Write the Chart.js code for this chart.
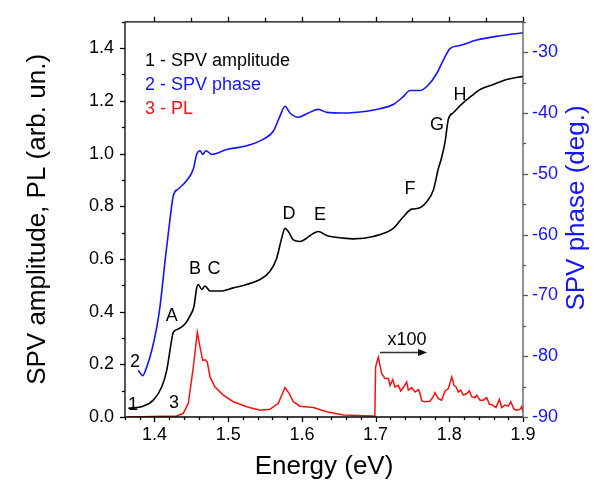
<!DOCTYPE html>
<html>
<head>
<meta charset="utf-8">
<script src="https://cdn.jsdelivr.net/npm/chart.js@4/dist/chart.umd.min.js"></script>
<style>
  body { margin: 0; background: #fff; }
  #wrap { width: 614px; height: 485px; }
</style>
</head>
<body>
<div id="wrap"><canvas id="spvChart" width="614" height="485"></canvas></div>
<script>
// curve 1 - SPV amplitude (left axis)
const ampEnergy = [1.3645, 1.3848, 1.3984, 1.4098, 1.4166, 1.4224, 1.4255, 1.4323, 1.4414, 1.4482, 1.4536,
  1.4573, 1.4595, 1.4641, 1.4686, 1.4753, 1.4889, 1.5069, 1.5251, 1.5432, 1.5567, 1.5658, 1.5726, 1.5771,
  1.5816, 1.5884, 1.5974, 1.6065, 1.6155, 1.6223, 1.6337, 1.6562, 1.6698, 1.6969, 1.7240, 1.7376, 1.7490,
  1.7580, 1.7694, 1.7783, 1.7851, 1.7897, 1.7942, 1.7987, 1.8055, 1.8190, 1.8326, 1.8417, 1.8597, 1.8779, 1.9000];
const ampValues = [0.033, 0.041, 0.064, 0.114, 0.177, 0.277, 0.321, 0.334, 0.353, 0.384, 0.420,
  0.490, 0.503, 0.484, 0.497, 0.478, 0.478, 0.490, 0.503, 0.522, 0.553, 0.603, 0.679, 0.716,
  0.704, 0.672, 0.666, 0.679, 0.697, 0.704, 0.689, 0.679, 0.676, 0.685, 0.716, 0.760, 0.789,
  0.792, 0.817, 0.861, 0.942, 0.986, 1.043, 1.130, 1.155, 1.193, 1.224, 1.243, 1.262, 1.281, 1.293];

// curve 2 - SPV phase (right axis, deg.)
const phaseEnergy = [1.3780, 1.3840, 1.3894, 1.3962, 1.4030, 1.4075, 1.4143, 1.4211, 1.4255, 1.4323, 1.4437,
  1.4527, 1.4573, 1.4618, 1.4654, 1.4699, 1.4776, 1.4980, 1.5251, 1.5477, 1.5612, 1.5703, 1.5771, 1.5839,
  1.5951, 1.6087, 1.6223, 1.6337, 1.6562, 1.6880, 1.7060, 1.7240, 1.7376, 1.7467, 1.7603, 1.7715, 1.7829,
  1.7919, 1.8010, 1.8145, 1.8372, 1.8688, 1.9000];
const phaseValues = [-82.3, -83.2, -81.8, -79.1, -75.3, -71.8, -64.4, -57.4, -53.6, -52.5, -51.1,
  -49.2, -46.8, -46.2, -46.8, -46.2, -46.8, -46.0, -45.4, -44.3, -43.0, -40.5, -38.9, -40.0,
  -40.7, -40.0, -39.4, -39.9, -40.0, -39.7, -39.3, -38.6, -37.3, -36.3, -36.3, -35.4, -33.5,
  -31.3, -29.4, -28.9, -28.0, -27.3, -26.8];

// curve 3 - PL (left axis), above 1.7 eV shown x100
const plEnergy = [1.3645, 1.4301, 1.4391, 1.4459, 1.4527, 1.4581, 1.4618, 1.4654, 1.4686, 1.4717, 1.4753,
  1.4821, 1.4934, 1.5069, 1.5251, 1.5432, 1.5567, 1.5680, 1.5771, 1.5829, 1.5884, 1.5974, 1.6155, 1.6337,
  1.6562, 1.6969, 1.6990, 1.7000, 1.7037, 1.7083, 1.7128, 1.7173, 1.7196, 1.7232, 1.7263, 1.7308, 1.7341,
  1.7376, 1.7422, 1.7444, 1.7490, 1.7535, 1.7580, 1.7603, 1.7626, 1.7671, 1.7738, 1.7783, 1.7806, 1.7851,
  1.7897, 1.7942, 1.7987, 1.8033, 1.8064, 1.8091, 1.8122, 1.8155, 1.8190, 1.8236, 1.8272, 1.8304, 1.8349,
  1.8372, 1.8417, 1.8462, 1.8508, 1.8543, 1.8589, 1.8634, 1.8679, 1.8711, 1.8756, 1.8801, 1.8834, 1.8878,
  1.8915, 1.8960, 1.8982, 1.9000];
const plValues = [0.000, 0.004, 0.014, 0.052, 0.189, 0.321, 0.265, 0.215, 0.217, 0.208, 0.152,
  0.114, 0.083, 0.058, 0.039, 0.026, 0.029, 0.052, 0.112, 0.089, 0.058, 0.041, 0.036, 0.020,
  0.008, 0.004, 0.003, 0.190, 0.227, 0.164, 0.146, 0.146, 0.120, 0.142, 0.114, 0.120, 0.099,
  0.112, 0.133, 0.102, 0.112, 0.095, 0.104, 0.089, 0.061, 0.058, 0.060, 0.077, 0.092, 0.070,
  0.064, 0.099, 0.108, 0.152, 0.120, 0.114, 0.095, 0.102, 0.083, 0.089, 0.099, 0.077, 0.073,
  0.083, 0.064, 0.064, 0.073, 0.049, 0.045, 0.036, 0.067, 0.036, 0.045, 0.041, 0.058, 0.030,
  0.026, 0.029, 0.039, 0.020];

// peak labels on curve 1
const peakNames = ['A', 'B', 'C', 'D', 'E', 'F', 'G', 'H'];
const peakEnergy = [1.4234, 1.4550, 1.4808, 1.5825, 1.6246, 1.7467, 1.7833, 1.8145];
const peakLevel = [0.384, 0.561, 0.561, 0.772, 0.768, 0.866, 1.107, 1.223];

const FONT = '"Liberation Sans", Arial, sans-serif';
const BLUE = '#1414ff';
const RED = '#ff1010';

function toPoints(xs, ys) {
  return xs.map((x, i) => ({ x: x, y: ys[i] }));
}

// frame, outer ticks, titles and annotations
const decorations = {
  id: 'decorations',
  afterDraw(chart) {
    const { ctx, chartArea: a } = chart;
    const sx = chart.scales.x, sy = chart.scales.y, sp = chart.scales.y2;
    ctx.save();
    ctx.lineWidth = 1.3;

    function line(x1, y1, x2, y2, color) {
      ctx.strokeStyle = color;
      ctx.beginPath();
      ctx.moveTo(x1, y1);
      ctx.lineTo(x2, y2);
      ctx.stroke();
    }

    // bottom axis: major 0.1, minor 0.02
    for (let k = 68; k <= 95; k++) {
      const px = Math.round(sx.getPixelForValue(k * 0.02)) + 0.5;
      const len = (k % 5 === 0) ? 5 : 3;
      line(px, a.bottom, px, a.bottom + len, '#000');
    }
    // top axis: major 0.1, minor 0.05
    for (let k = 28; k <= 38; k++) {
      const px = Math.round(sx.getPixelForValue(k * 0.05)) + 0.5;
      const len = (k % 2 === 0) ? 5 : 4;
      line(px, a.top, px, a.top - len, '#000');
    }
    // left axis: major 0.2, minor 0.1
    for (let k = 0; k <= 15; k++) {
      const py = Math.round(sy.getPixelForValue(k * 0.1)) + 0.5;
      const len = (k % 2 === 0) ? 5 : 3;
      line(a.left, py, a.left - len, py, '#000');
    }
    // right axis: major 10, minor 5
    for (let v = -90; v <= -25; v += 5) {
      const py = Math.round(sp.getPixelForValue(v)) + 0.5;
      const len = (v % 10 === 0) ? 5 : 3;
      line(a.right, py, a.right + len, py, '#555');
    }
    // frame
    line(a.left, a.top, a.right, a.top, '#000');
    line(a.left, a.bottom, a.right, a.bottom, '#000');
    line(a.left, a.top, a.left, a.bottom, '#000');
    line(a.right, a.top, a.right, a.bottom, '#555');

    ctx.textAlign = 'center';
    ctx.textBaseline = 'middle';

    // axis titles
    ctx.font = '26px ' + FONT;
    ctx.fillStyle = '#000';
    ctx.fillText('Energy (eV)', (a.left + a.right) / 2, 467);
    ctx.save();
    ctx.translate(38, (a.top + a.bottom) / 2);
    ctx.rotate(-Math.PI / 2);
    ctx.fillText('SPV amplitude, PL (arb. un.)', 0, 0);
    ctx.restore();
    ctx.save();
    ctx.fillStyle = BLUE;
    ctx.translate(577, 208);
    ctx.rotate(-Math.PI / 2);
    ctx.fillText('SPV phase (deg.)', 0, 0);
    ctx.restore();

    // peak letters and curve numbers
    ctx.font = '18px ' + FONT;
    ctx.fillStyle = '#000';
    peakNames.forEach((n, i) => {
      ctx.fillText(n, sx.getPixelForValue(peakEnergy[i]), sy.getPixelForValue(peakLevel[i]));
    });
    ctx.fillText('1', sx.getPixelForValue(1.3709), sy.getPixelForValue(0.045));
    ctx.fillText('2', sx.getPixelForValue(1.3736), sy.getPixelForValue(0.207));
    ctx.fillText('3', sx.getPixelForValue(1.4265), sy.getPixelForValue(0.053));
    ctx.fillText('x100', sx.getPixelForValue(1.7426), sy.getPixelForValue(0.294));

    // x100 arrow
    const ay = Math.round(sy.getPixelForValue(0.245)) + 0.5;
    const ax1 = sx.getPixelForValue(1.706), ax2 = sx.getPixelForValue(1.7698);
    line(ax1, ay, ax2 - 6, ay, '#333');
    ctx.fillStyle = '#111';
    ctx.beginPath();
    ctx.moveTo(ax2, ay);
    ctx.lineTo(ax2 - 9, ay - 3.5);
    ctx.lineTo(ax2 - 9, ay + 3.5);
    ctx.closePath();
    ctx.fill();

    // legend text
    ctx.textAlign = 'left';
    const lx = sx.getPixelForValue(1.3871);
    ctx.fillStyle = '#000';
    ctx.fillText('1 - SPV amplitude', lx, sy.getPixelForValue(1.351));
    ctx.fillStyle = BLUE;
    ctx.fillText('2 - SPV phase', lx, sy.getPixelForValue(1.261));
    ctx.fillStyle = RED;
    ctx.fillText('3 - PL', lx, sy.getPixelForValue(1.170));
    ctx.restore();
  }
};

new Chart(document.getElementById('spvChart'), {
  type: 'line',
  data: {
    datasets: [
      {
        label: 'SPV amplitude',
        data: toPoints(ampEnergy, ampValues),
        yAxisID: 'y',
        borderColor: '#000',
        borderWidth: 1.6,
        pointRadius: 0,
        cubicInterpolationMode: 'monotone'
      },
      {
        label: 'SPV phase',
        data: toPoints(phaseEnergy, phaseValues),
        yAxisID: 'y2',
        borderColor: BLUE,
        borderWidth: 1.6,
        pointRadius: 0,
        cubicInterpolationMode: 'monotone'
      },
      {
        label: 'PL',
        data: toPoints(plEnergy, plValues),
        yAxisID: 'y',
        borderColor: RED,
        borderWidth: 1.5,
        pointRadius: 0,
        tension: 0
      }
    ]
  },
  options: {
    responsive: false,
    animation: false,
    events: [],
    layout: { padding: { top: 18, left: 0, right: 0, bottom: 0 } },
    plugins: {
      legend: { display: false },
      title: { display: false },
      tooltip: { enabled: false }
    },
    scales: {
      x: {
        type: 'linear',
        min: 1.36,
        max: 1.9,
        grid: { display: false, drawTicks: false },
        border: { display: false },
        ticks: {
          stepSize: 0.1,
          includeBounds: false,
          autoSkip: false,
          maxRotation: 0,
          padding: 7,
          color: '#000',
          font: { size: 18, family: FONT },
          callback: v => v.toFixed(1)
        },
        afterFit: s => { s.height = 68; }
      },
      y: {
        position: 'left',
        min: 0,
        max: 1.5,
        grid: { display: false, drawTicks: false },
        border: { display: false },
        ticks: {
          stepSize: 0.2,
          includeBounds: false,
          padding: 11,
          color: '#000',
          font: { size: 18, family: FONT },
          callback: v => v.toFixed(1)
        },
        afterFit: s => { s.width = 125; }
      },
      y2: {
        position: 'right',
        min: -90,
        max: -25,
        grid: { display: false, drawTicks: false },
        border: { display: false },
        ticks: {
          stepSize: 10,
          includeBounds: false,
          padding: 9,
          color: BLUE,
          font: { size: 18, family: FONT },
          callback: v => String(v)
        },
        afterFit: s => { s.width = 91; }
      }
    }
  },
  plugins: [decorations]
});
</script>
</body>
</html>
